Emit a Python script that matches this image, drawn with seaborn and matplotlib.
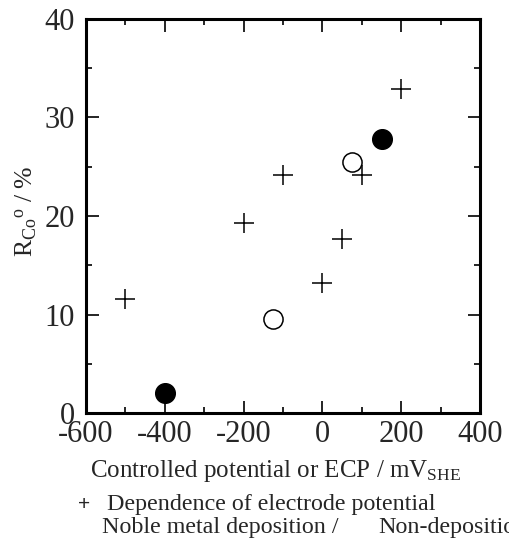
import matplotlib
matplotlib.use("Agg")
import matplotlib.pyplot as plt
import seaborn as sns
import pandas as pd
from matplotlib.ticker import MultipleLocator

# Data
plus_x = [-500, -200, -100, 0, 50, 100, 200]
plus_y = [11.6, 19.3, 24.2, 13.2, 17.7, 24.2, 32.9]
noble_x = [-400, 150]
noble_y = [2.0, 27.8]
nondep_x = [-125, 75]
nondep_y = [9.5, 25.5]
x_ticks = [-600, -400, -200, 0, 200, 400]
y_ticks = [0, 10, 20, 30, 40]

sns.set_style("ticks")
plt.rcParams['font.family'] = ['Liberation Serif', 'DejaVu Serif']
plt.rcParams['mathtext.fontset'] = 'custom'
plt.rcParams['mathtext.rm'] = 'Liberation Serif'
plt.rcParams['mathtext.it'] = 'Liberation Serif:italic'

fig = plt.figure(figsize=(5.10, 5.49), dpi=100)
ax = fig.add_axes([86/510, 1 - 413/549, (480-86)/510, (413-19)/549])

df_plus = pd.DataFrame({"x": plus_x, "y": plus_y})
df_noble = pd.DataFrame({"x": noble_x, "y": noble_y})
df_non = pd.DataFrame({"x": nondep_x, "y": nondep_y})

sns.scatterplot(data=df_plus, x="x", y="y", marker="+", s=220, color="black",
                linewidth=1.1, ax=ax, zorder=3)
sns.scatterplot(data=df_non, x="x", y="y", marker="o", s=190, facecolor="white",
                edgecolor="black", linewidth=1.1, ax=ax, zorder=3)
sns.scatterplot(data=df_noble, x="x", y="y", marker="o", s=200, color="black",
                edgecolor="black", linewidth=1.0, ax=ax, zorder=3)

ax.set_xlim(-600, 400)
ax.set_ylim(0, 40)
ax.set_xticks(x_ticks)
ax.set_yticks(y_ticks)
ax.set_xticklabels([str(v) for v in x_ticks])
ax.set_yticklabels([str(v) for v in y_ticks])
ax.xaxis.set_minor_locator(MultipleLocator(100))
ax.yaxis.set_minor_locator(MultipleLocator(5))
ax.tick_params(which="both", direction="in", top=True, right=True, width=1.2, color="black")
ax.tick_params(which="major", length=9, labelsize=22)
ax.tick_params(axis="x", which="major", pad=5)
ax.tick_params(axis="y", which="major", pad=8)
ax.tick_params(which="minor", length=4.5)
for sp in ax.spines.values():
    sp.set_visible(True)
    sp.set_linewidth(2.2)
    sp.set_color("black")

ax.set_xlabel(r"Controlled potential or ECP / mV$_{\mathrm{SHE}}$", fontsize=18)
ax.xaxis.set_label_coords((276-86)/394, -0.113, transform=ax.transAxes)
ax.set_ylabel(r"R$_{\mathrm{Co}}$$^{\mathrm{o}}$ / %", fontsize=18.5)
ax.yaxis.set_label_coords(-0.12, 0.513, transform=ax.transAxes)

fig.text(78/510, 1 - 510/549, "+", fontsize=15, family="Liberation Sans", va="baseline", ha="left")
fig.text(107/510, 1 - 510/549, "Dependence of electrode potential", fontsize=17.3, va="baseline", ha="left")
fig.text(102/510, 1 - 533/549, "Noble metal deposition /", fontsize=17.3, va="baseline", ha="left")
fig.text(378/510, 1 - 533/549, "Non-deposition", fontsize=17.3, va="baseline", ha="left")

fig.savefig("out.png", dpi=100)
